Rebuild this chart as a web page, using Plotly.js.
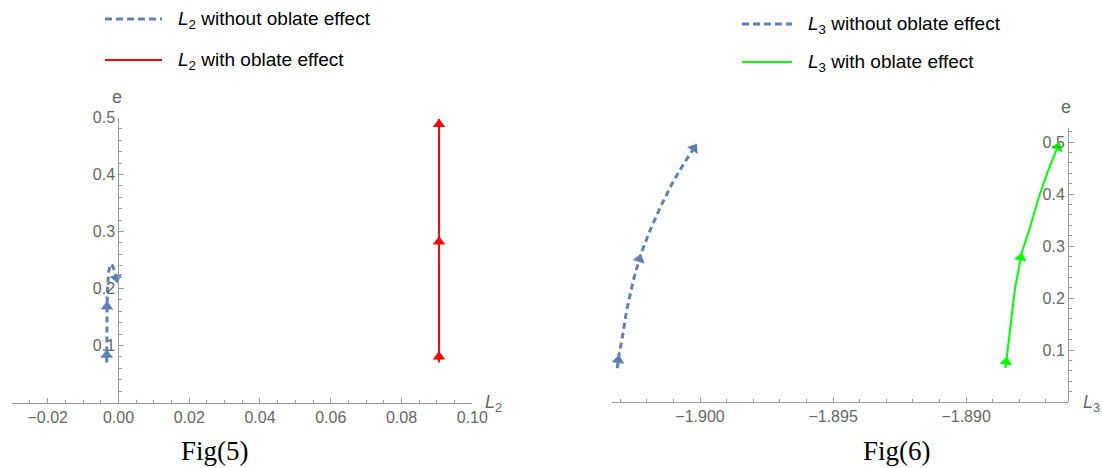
<!DOCTYPE html>
<html><head><meta charset="utf-8">
<script src="https://cdn.plot.ly/plotly-3.0.1.min.js"></script>
<style>html,body{margin:0;padding:0;background:#fff}</style>
</head><body><div id="chart" style="width:1102px;height:468px"></div>
<script>
// ---- data ----
const L2_without_x = [-0.0033, -0.0033, -0.0033, -0.0032, -0.0030, -0.0027, -0.0022, -0.0017, -0.0009, -0.0003];
const L2_without_e = [0.070, 0.092, 0.130, 0.177, 0.210, 0.232, 0.243, 0.240, 0.228, 0.210];
const L2_without_arrows = [1, 3, 9];

const L2_with_x = [0.0906, 0.0906, 0.0906, 0.0906];
const L2_with_e = [0.070, 0.089, 0.291, 0.497];
const L2_with_arrows = [1, 2, 3];

const L3_without_x = [-1.90311, -1.90305, -1.90294, -1.90276, -1.90251, -1.90223, -1.90188, -1.90150, -1.90106, -1.90063, -1.90013];
const L3_without_e = [0.065, 0.090, 0.119, 0.176, 0.234, 0.284, 0.330, 0.374, 0.419, 0.457, 0.496];
const L3_without_arrows = [1, 5, 10];

const L3_with_x = [-1.88852, -1.88847, -1.88835, -1.88816, -1.88791, -1.88759, -1.88728, -1.88691, -1.88649];
const L3_with_e = [0.065, 0.087, 0.132, 0.219, 0.287, 0.337, 0.392, 0.446, 0.499];
const L3_with_arrows = [1, 4, 8];

const e_ticks = [0.1, 0.2, 0.3, 0.4, 0.5];
const legendLabels = [
  "<i>L</i><sub>2</sub> without oblate effect",
  "<i>L</i><sub>2</sub> with oblate effect",
  "<i>L</i><sub>3</sub> without oblate effect",
  "<i>L</i><sub>3</sub> with oblate effect"
];
const captions = ["Fig(5)", "Fig(6)"];

// ---- helpers ----
const W = 1102, H = 468;
const px = v => v / W;
const py = v => 1 - v / H;
function arrowSizes(n, idx, s) { const a = new Array(n).fill(0); idx.forEach(i => a[i] = s); return a; }

const BLUE = '#5E81B5', RED = '#FF0000', GREEN = '#00FF00';
const AX = '#9a9a9a', LAB = '#666666';
const SANS = 'Liberation Sans, Arial, sans-serif';

function mk(x, y, arrows, color, width, dash, xa, ya, name) {
  return [{
    type: 'scatter', mode: 'lines', name: name, x: x, y: y, xaxis: xa, yaxis: ya,
    line: {color: color, width: width, dash: dash},
    showlegend: false, hoverinfo: 'skip'
  }, {
    type: 'scatter', mode: 'markers', name: name + ' arrows', x: x, y: y, xaxis: xa, yaxis: ya,
    marker: {symbol: 'triangle-up', angleref: 'previous', standoff: 5, size: arrowSizes(x.length, arrows, 11), color: color, opacity: 1, line: {width: 0}},
    showlegend: false, hoverinfo: 'skip'
  }];
}

const traces = [].concat(
  mk(L2_without_x, L2_without_e, L2_without_arrows, BLUE, 3, '6px,4px', 'x', 'y', 'L2 without'),
  mk(L2_with_x, L2_with_e, L2_with_arrows, RED, 2, 'solid', 'x', 'y', 'L2 with'),
  mk(L3_without_x, L3_without_e, L3_without_arrows, BLUE, 3, '6px,4px', 'x2', 'y2', 'L3 without'),
  mk(L3_with_x, L3_with_e, L3_with_arrows, GREEN, 2, 'solid', 'x2', 'y2', 'L3 with')
);

const tickfont = {family: SANS, size: 16, color: LAB};
const common = {showline: true, linecolor: AX, linewidth: 1, ticks: 'inside', ticklen: 5, tickcolor: AX,
  showgrid: false, zeroline: false, tickfont: tickfont, fixedrange: true};

const layout = {
  width: W, height: H, margin: {l: 0, r: 0, t: 0, b: 0},
  paper_bgcolor: '#fff', plot_bgcolor: 'rgba(0,0,0,0)', showlegend: false,
  xaxis: Object.assign({}, common, {domain: [px(12.3), px(472.3)], range: [-0.03, 0.10], anchor: 'y',
    tick0: 0, dtick: 0.02, tickformat: '.2f',
    minor: {dtick: 0.005, tick0: 0, ticks: 'inside', ticklen: 3, tickcolor: AX}}),
  yaxis: Object.assign({}, common, {domain: [py(402.5), py(117.5)], range: [0, 0.5], anchor: 'free', position: px(118.3), side: 'left',
    tickmode: 'array', tickvals: e_ticks, tickformat: '.1f',
    minor: {dtick: 0.02, tick0: 0, ticks: 'inside', ticklen: 3, tickcolor: AX}}),
  xaxis2: Object.assign({}, common, {domain: [px(612), px(1068)], range: [-1.90331, -1.88617], anchor: 'y2',
    tick0: -1.9, dtick: 0.005, tickformat: '.3f',
    minor: {dtick: 0.001, tick0: -1.9, ticks: 'inside', ticklen: 3, tickcolor: AX}}),
  yaxis2: Object.assign({}, common, {domain: [py(402), py(128)], range: [0, 0.527], anchor: 'free', position: px(1068), side: 'left',
    tickmode: 'array', tickvals: e_ticks, tickformat: '.1f',
    minor: {dtick: 0.02, tick0: 0, ticks: 'inside', ticklen: 3, tickcolor: AX}}),
  shapes: [
    {type: 'line', xref: 'paper', yref: 'paper', x0: px(105), x1: px(162), y0: py(19), y1: py(19), line: {color: BLUE, width: 3, dash: '7px,4px'}},
    {type: 'line', xref: 'paper', yref: 'paper', x0: px(105), x1: px(162), y0: py(60), y1: py(60), line: {color: RED, width: 2}},
    {type: 'line', xref: 'paper', yref: 'paper', x0: px(742), x1: px(792), y0: py(24), y1: py(24), line: {color: BLUE, width: 3, dash: '7px,4px'}},
    {type: 'line', xref: 'paper', yref: 'paper', x0: px(742), x1: px(792), y0: py(62), y1: py(62), line: {color: GREEN, width: 2}}
  ],
  annotations: [
    {text: legendLabels[0], x: px(176), y: py(20), xanchor: 'left', yanchor: 'middle'},
    {text: legendLabels[1], x: px(176), y: py(61), xanchor: 'left', yanchor: 'middle'},
    {text: legendLabels[2], x: px(806), y: py(25), xanchor: 'left', yanchor: 'middle'},
    {text: legendLabels[3], x: px(806), y: py(63), xanchor: 'left', yanchor: 'middle'}
  ].map(a => Object.assign(a, {xref: 'paper', yref: 'paper', showarrow: false, font: {family: SANS, size: 19, color: '#000'}}))
  .concat([
    {text: 'e', x: px(117), y: py(97)},
    {text: 'e', x: px(1066), y: py(107)},
    {text: '<i>L</i><sub>2</sub>', x: px(493), y: py(403)},
    {text: '<i>L</i><sub>3</sub>', x: px(1091), y: py(403)}
  ].map(a => Object.assign(a, {xref: 'paper', yref: 'paper', showarrow: false, xanchor: 'center', yanchor: 'middle', font: {family: SANS, size: 18, color: LAB}})))
  .concat([
    {text: captions[0], x: px(215), y: py(451)},
    {text: captions[1], x: px(897), y: py(451)}
  ].map(a => Object.assign(a, {xref: 'paper', yref: 'paper', showarrow: false, xanchor: 'center', yanchor: 'middle', font: {family: 'Liberation Serif, Times New Roman, serif', size: 27, color: '#000'}})))
};

Plotly.newPlot('chart', traces, layout, {displayModeBar: false, staticPlot: true});
</script>
</body></html>
